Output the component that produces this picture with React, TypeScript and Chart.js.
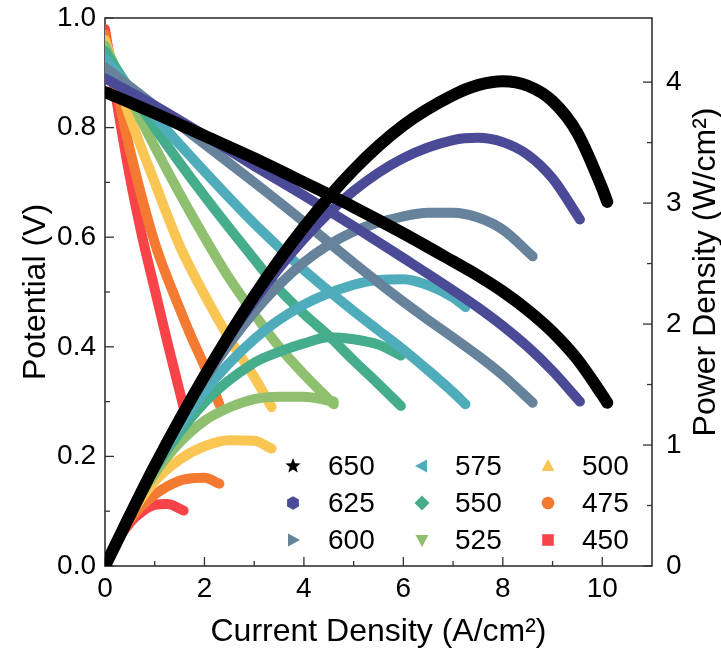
import React, { useEffect, useRef } from 'react';
import { Chart, registerables } from 'chart.js';

Chart.register(...registerables);

// ---- Data ----
const temps = ['650', '625', '600', '575', '550', '525', '500', '475', '450'];
const colors = ['#000000', '#4B4A96', '#66839B', '#4FADBB', '#45AD8C', '#8FC06F', '#F9C654', '#F37A30', '#F84349'];
const markers = ['star', 'hexagon', 'triRight', 'triLeft', 'diamond', 'triDown', 'triUp', 'circle', 'square'];

const I650 = [0, 1, 2, 3, 4, 5, 6, 7, 7.5, 8, 8.5, 9, 9.5, 10, 10.1];
const V650 = [0.865, 0.826, 0.785, 0.744, 0.7, 0.655, 0.607, 0.556, 0.53, 0.501, 0.467, 0.427, 0.377, 0.312, 0.298];
const P650 = [0, 0.826, 1.57, 2.232, 2.8, 3.275, 3.642, 3.892, 3.975, 4.008, 3.97, 3.843, 3.58, 3.12, 3.01];

const I625 = [0, 1, 2, 3, 4, 5, 6, 7, 7.5, 8, 8.5, 9, 9.55];
const V625 = [0.89, 0.84, 0.786, 0.73, 0.676, 0.62, 0.562, 0.503, 0.472, 0.438, 0.4, 0.356, 0.3];
const P625 = [0, 0.84, 1.572, 2.19, 2.704, 3.1, 3.372, 3.521, 3.54, 3.504, 3.4, 3.204, 2.865];

const I600 = [0, 1, 2, 3, 4, 5, 6, 6.5, 7, 7.5, 8, 8.6];
const V600 = [0.91, 0.84, 0.77, 0.7, 0.628, 0.553, 0.482, 0.449, 0.417, 0.384, 0.348, 0.298];
const P600 = [0, 0.84, 1.54, 2.1, 2.51, 2.765, 2.89, 2.92, 2.92, 2.88, 2.78, 2.56];

const I575 = [0, 1, 2, 3, 4, 5, 5.5, 6, 6.5, 7, 7.25];
const V575 = [0.925, 0.82, 0.72, 0.625, 0.54, 0.465, 0.43, 0.395, 0.357, 0.317, 0.295];
const P575 = [0, 0.82, 1.44, 1.875, 2.16, 2.325, 2.365, 2.37, 2.32, 2.22, 2.14];

const I550 = [0, 1, 2, 3, 3.5, 4, 4.5, 5, 5.5, 5.95];
const V550 = [0.94, 0.8, 0.675, 0.56, 0.505, 0.46, 0.42, 0.375, 0.332, 0.292];
const P550 = [0, 0.8, 1.35, 1.68, 1.77, 1.84, 1.89, 1.875, 1.83, 1.74];

const I525 = [0, 0.5, 1, 1.5, 2, 2.5, 3, 3.5, 4, 4.6];
const V525 = [0.95, 0.855, 0.765, 0.68, 0.6, 0.525, 0.46, 0.4, 0.35, 0.295];
const P525 = [0, 0.43, 0.765, 1.02, 1.2, 1.31, 1.38, 1.4, 1.4, 1.36];

const I500 = [0, 0.5, 1, 1.5, 2, 2.5, 3, 3.35];
const V500 = [0.96, 0.82, 0.7, 0.585, 0.495, 0.415, 0.345, 0.29];
const P500 = [0, 0.41, 0.7, 0.88, 0.99, 1.04, 1.035, 0.97];

const I475 = [0, 0.5, 1, 1.5, 1.75, 2, 2.3];
const V475 = [0.97, 0.76, 0.59, 0.47, 0.415, 0.365, 0.295];
const P475 = [0, 0.38, 0.59, 0.705, 0.726, 0.73, 0.68];

const I450 = [0, 0.25, 0.5, 0.75, 1.0, 1.25, 1.58];
const V450 = [0.98, 0.84, 0.71, 0.6, 0.505, 0.41, 0.29];
const P450 = [0, 0.21, 0.355, 0.45, 0.505, 0.512, 0.458];

const currents = [I650, I625, I600, I575, I550, I525, I500, I475, I450];
const voltages = [V650, V625, V600, V575, V550, V525, V500, V475, V450];
const powers = [P650, P625, P600, P575, P550, P525, P500, P475, P450];

const xTickValues = [0, 2, 4, 6, 8, 10];
const xMinorValues = [1, 3, 5, 7, 9];
const yTickValues = [0, 0.2, 0.4, 0.6, 0.8, 1.0];
const yMinorValues = [0.1, 0.3, 0.5, 0.7, 0.9];
const y2TickValues = [0, 1, 2, 3, 4];
const y2MinorValues = [0.5, 1.5, 2.5, 3.5];

const FONT = "'Liberation Sans', Arial, sans-serif";

function drawMarker(ctx: CanvasRenderingContext2D, kind: string, x: number, y: number, color: string) {
  ctx.fillStyle = color;
  ctx.beginPath();
  if (kind === 'star') {
    const ro = 8, ri = 3.4;
    for (let k = 0; k < 10; k++) {
      const r = k % 2 === 0 ? ro : ri;
      const a = -Math.PI / 2 + (k * Math.PI) / 5;
      const px = x + r * Math.cos(a), py = y + r * Math.sin(a);
      k === 0 ? ctx.moveTo(px, py) : ctx.lineTo(px, py);
    }
  } else if (kind === 'hexagon') {
    const r = 6.8;
    for (let k = 0; k < 6; k++) {
      const a = -Math.PI / 2 + (k * Math.PI) / 3;
      const px = x + r * Math.cos(a), py = y + r * Math.sin(a);
      k === 0 ? ctx.moveTo(px, py) : ctx.lineTo(px, py);
    }
  } else if (kind === 'triRight') {
    ctx.moveTo(x - 5, y - 6.5); ctx.lineTo(x + 7, y); ctx.lineTo(x - 5, y + 6.5);
  } else if (kind === 'triLeft') {
    ctx.moveTo(x + 5, y - 6.5); ctx.lineTo(x - 7, y); ctx.lineTo(x + 5, y + 6.5);
  } else if (kind === 'diamond') {
    ctx.moveTo(x, y - 7.5); ctx.lineTo(x + 7.5, y); ctx.lineTo(x, y + 7.5); ctx.lineTo(x - 7.5, y);
  } else if (kind === 'triDown') {
    ctx.moveTo(x - 6.5, y - 5); ctx.lineTo(x + 6.5, y - 5); ctx.lineTo(x, y + 7);
  } else if (kind === 'triUp') {
    ctx.moveTo(x - 6.5, y + 5); ctx.lineTo(x + 6.5, y + 5); ctx.lineTo(x, y - 7);
  } else if (kind === 'circle') {
    ctx.arc(x, y, 6.3, 0, Math.PI * 2);
  } else {
    ctx.rect(x - 5.8, y - 5.8, 11.6, 11.6);
  }
  ctx.closePath();
  ctx.fill();
}

const framePlugin = {
  id: 'frameTicks',
  beforeDatasetsDraw(chart: any) {
    const { ctx, chartArea, scales } = chart;
    const { left, right, top, bottom } = chartArea;
    ctx.save();
    ctx.strokeStyle = '#333333';
    ctx.lineWidth = 1.6;
    ctx.strokeRect(left, top, right - left, bottom - top);
    ctx.lineWidth = 1.3;
    const seg = (x1: number, y1: number, x2: number, y2: number) => {
      ctx.beginPath(); ctx.moveTo(x1, y1); ctx.lineTo(x2, y2); ctx.stroke();
    };
    xTickValues.forEach((v) => { const p = scales.x.getPixelForValue(v); seg(p, bottom, p, bottom - 9); });
    xMinorValues.forEach((v) => { const p = scales.x.getPixelForValue(v); seg(p, bottom, p, bottom - 5); });
    yTickValues.forEach((v) => { const p = scales.y.getPixelForValue(v); seg(left, p, left + 9, p); });
    yMinorValues.forEach((v) => { const p = scales.y.getPixelForValue(v); seg(left, p, left + 5, p); });
    y2TickValues.forEach((v) => { const p = scales.y2.getPixelForValue(v); seg(right, p, right - 9, p); });
    y2MinorValues.forEach((v) => { const p = scales.y2.getPixelForValue(v); seg(right, p, right - 5, p); });
    ctx.restore();
  },
  afterDraw(chart: any) {
    const { ctx } = chart;
    ctx.save();
    // legend: 3 columns x 3 rows inside the plot
    const markerX = [293, 422, 548];
    const textX = [328, 455, 582];
    const rowY = [466, 503, 540];
    ctx.font = `28px ${FONT}`;
    ctx.textBaseline = 'middle';
    ctx.textAlign = 'left';
    temps.forEach((t, i) => {
      const col = Math.floor(i / 3), row = i % 3;
      drawMarker(ctx, markers[i], markerX[col], rowY[row], colors[i]);
      ctx.fillStyle = '#000';
      ctx.fillText(t, textX[col], rowY[row] + 1);
    });
    // right axis title (reads bottom-to-top)
    ctx.translate(706, 272);
    ctx.rotate(-Math.PI / 2);
    ctx.textAlign = 'center';
    ctx.font = `32px ${FONT}`;
    ctx.fillStyle = '#000';
    ctx.fillText('Power Density (W/cm²)', 0, 0);
    ctx.restore();
  },
};

export default function App() {
  const ref = useRef<HTMLCanvasElement | null>(null);

  useEffect(() => {
    if (!ref.current) return;
    const datasets: any[] = [];
    temps.forEach((t, i) => {
      const w = i === 0 ? 12 : 10;
      const common = {
        borderColor: colors[i],
        backgroundColor: colors[i],
        borderWidth: w,
        pointRadius: 0,
        cubicInterpolationMode: 'monotone',
        borderCapStyle: 'round',
        borderJoinStyle: 'round',
        fill: false,
      };
      datasets.push({
        ...common,
        label: t + ' V',
        data: currents[i].map((c, k) => ({ x: c, y: voltages[i][k] })),
        yAxisID: 'y',
      });
      datasets.push({
        ...common,
        label: t + ' P',
        data: currents[i].map((c, k) => ({ x: c, y: powers[i][k] })),
        yAxisID: 'y2',
      });
    });

    const tickFont = { family: FONT, size: 28 };
    const chart = new Chart(ref.current, {
      type: 'line',
      data: { datasets },
      plugins: [framePlugin],
      options: {
        animation: false,
        responsive: false,
        maintainAspectRatio: false,
        layout: { autoPadding: false, padding: { top: 18, left: 0, right: 0, bottom: 0 } },
        plugins: { legend: { display: false }, tooltip: { enabled: false } },
        scales: {
          x: {
            type: 'linear',
            min: 0,
            max: 11,
            afterBuildTicks: (s: any) => { s.ticks = xTickValues.map((v) => ({ value: v })); },
            afterFit: (s: any) => { s.height = 96; s.paddingLeft = 0; s.paddingRight = 0; },
            ticks: { font: tickFont, color: '#000', padding: 6, autoSkip: false, maxRotation: 0, callback: (v: any) => String(v) },
            grid: { display: false, drawTicks: false },
            border: { display: false },
            title: { display: true, text: 'Current Density (A/cm²)', color: '#000', font: { family: FONT, size: 32 }, padding: { top: 0, bottom: 11 } },
          },
          y: {
            type: 'linear',
            position: 'left',
            min: 0,
            max: 1,
            afterBuildTicks: (s: any) => { s.ticks = yTickValues.map((v) => ({ value: v })); },
            afterFit: (s: any) => { s.width = 105; s.paddingTop = 0; s.paddingBottom = 0; },
            ticks: { font: tickFont, color: '#000', padding: 9, autoSkip: false, callback: (v: any) => Number(v).toFixed(1) },
            grid: { display: false, drawTicks: false },
            border: { display: false },
            title: { display: true, text: 'Potential (V)', color: '#000', font: { family: FONT, size: 32 }, padding: { top: 17, bottom: 0 } },
          },
          y2: {
            type: 'linear',
            position: 'right',
            min: 0,
            max: 4.53,
            afterBuildTicks: (s: any) => { s.ticks = y2TickValues.map((v) => ({ value: v })); },
            afterFit: (s: any) => { s.width = 69; s.paddingTop = 0; s.paddingBottom = 0; },
            ticks: { font: tickFont, color: '#000', padding: 14, autoSkip: false, callback: (v: any) => String(v) },
            grid: { display: false, drawTicks: false },
            border: { display: false },
          },
        },
      } as any,
    });
    return () => chart.destroy();
  }, []);

  return (
    <div style={{ position: 'absolute', left: 0, top: 0, width: 721, height: 662, background: '#fff' }}>
      <canvas ref={ref} width={721} height={662} style={{ display: 'block', width: 721, height: 662 }} />
    </div>
  );
}
